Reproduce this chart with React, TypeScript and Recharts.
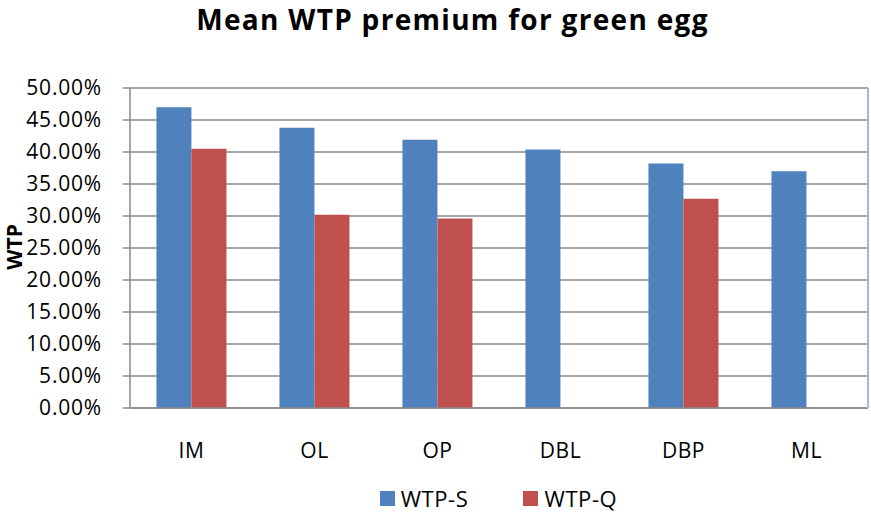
import { Bar, BarChart, CartesianGrid, Legend, XAxis, YAxis } from "recharts";

const categories = ["IM", "OL", "OP", "DBL", "DBP", "ML"];
const wtpS = [0.47, 0.438, 0.419, 0.404, 0.382, 0.37];
const wtpQ = [0.405, 0.302, 0.296, null, 0.327, null];
const yTicks = [0, 0.05, 0.1, 0.15, 0.2, 0.25, 0.3, 0.35, 0.4, 0.45, 0.5];

const data = categories.map((name, i) => ({ name, s: wtpS[i], q: wtpQ[i] }));

const font = "'Open Sans', sans-serif";

const legendItems = [
  { label: "WTP-S", color: "#4f81bd" },
  { label: "WTP-Q", color: "#c0504d" },
];

function LegendBox() {
  return (
    <div
      style={{
        display: "flex",
        justifyContent: "center",
        gap: 55,
        paddingTop: 14,
        paddingLeft: 128,
        fontFamily: font,
        fontSize: 22,
        lineHeight: "30px",
        letterSpacing: 0.6,
        color: "#000",
      }}
    >
      {legendItems.map((it) => (
        <div key={it.label} style={{ display: "flex", alignItems: "center" }}>
          <span style={{ width: 15, height: 15, background: it.color, marginRight: 6, display: "inline-block" }} />
          {it.label}
        </div>
      ))}
    </div>
  );
}

export default function App() {
  return (
    <div style={{ position: "absolute", left: 0, top: 0, width: 871, height: 513, background: "#fff" }}>
      <div
        style={{
          position: "absolute",
          top: 0,
          left: 0,
          width: 905,
          textAlign: "center",
          fontFamily: font,
          fontWeight: 700,
          fontSize: 28,
          lineHeight: "38px",
          letterSpacing: 1.3,
          color: "#000",
        }}
      >
        Mean WTP premium for green egg
      </div>
      <div
        style={{
          position: "absolute",
          left: -11,
          top: 233,
          width: 50,
          textAlign: "center",
          transform: "rotate(-90deg)",
          fontFamily: font,
          fontWeight: 700,
          fontSize: 21,
          color: "#000",
        }}
      >
        WTP
      </div>
      <BarChart
        width={871}
        height={513}
        data={data}
        margin={{ top: 88, right: 2, left: 0, bottom: 0 }}
        barCategoryGap="21.5%"
        barGap={0}
      >
        <CartesianGrid horizontal vertical={false} stroke="#8a8a8a" strokeWidth={1.5} />
        <XAxis
          dataKey="name"
          height={61}
          tickLine={false}
          axisLine={{ stroke: "#8a8a8a", strokeWidth: 1.5 }}
          tick={{ fill: "#000", fontFamily: font, fontSize: 21, letterSpacing: 0.5 }}
          tickMargin={29}
        />
        <YAxis
          width={130}
          domain={[0, 0.5]}
          ticks={yTicks}
          interval={0}
          tickFormatter={(v: number) => `${(v * 100).toFixed(2)}%`}
          tickSize={7}
          tickMargin={21}
          tickLine={{ stroke: "#8a8a8a", strokeWidth: 1.5 }}
          axisLine={{ stroke: "#8a8a8a", strokeWidth: 1.5 }}
          tick={{ fill: "#000", fontFamily: font, fontSize: 21, letterSpacing: 0.8 }}
        />
        <YAxis
          yAxisId="border"
          orientation="right"
          width={1}
          domain={[0, 0.5]}
          tick={false}
          tickLine={false}
          axisLine={{ stroke: "#a6b9dc", strokeWidth: 2 }}
        />
        <Bar dataKey="s" name="WTP-S" fill="#4f81bd" isAnimationActive={false} />
        <Bar dataKey="q" name="WTP-Q" fill="#c0504d" isAnimationActive={false} />
        <Legend verticalAlign="bottom" height={44} content={() => <LegendBox />} />
      </BarChart>
    </div>
  );
}
